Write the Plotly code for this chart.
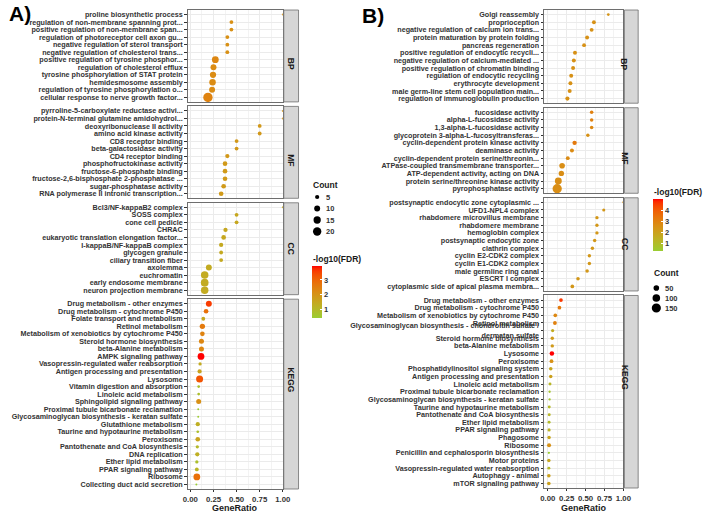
import numpy as np
import plotly.graph_objects as go

W, H = 709, 512

# ================= Panel A data =================
A_BP_terms = ["proline biosynthetic process", "regulation of non-membrane spanning prot...",
              "positive regulation of non-membrane span...", "regulation of photoreceptor cell axon gu...",
              "negative regulation of sterol transport", "negative regulation of cholesterol trans...",
              "positive regulation of tyrosine phosphor...", "regulation of cholesterol efflux",
              "tyrosine phosphorylation of STAT protein", "hemidesmosome assembly",
              "regulation of tyrosine phosphorylation o...", "cellular response to nerve growth factor..."]
A_BP_ratio = [1.0, 0.444, 0.444, 0.40, 0.40, 0.40, 0.27, 0.25, 0.245, 0.24, 0.235, 0.19]
A_BP_count = [1, 4, 4, 4, 4, 4, 13, 10, 11, 12, 10, 25]
A_BP_logfdr = [2.0, 2.1, 2.1, 2.1, 2.1, 2.1, 2.3, 2.2, 2.2, 2.2, 2.2, 2.4]

A_MF_terms = ["pyrroline-5-carboxylate reductase activi...", "protein-N-terminal glutamine amidohydrol...",
              "deoxyribonuclease II activity", "amino acid kinase activity", "CD8 receptor binding",
              "beta-galactosidase activity", "CD4 receptor binding", "phosphofructokinase activity",
              "fructose-6-phosphate binding", "fructose-2,6-bisphosphate 2-phosphatase ...",
              "sugar-phosphatase activity", "RNA polymerase II intronic transcription..."]
A_MF_ratio = [1.0, 1.0, 0.75, 0.75, 0.5, 0.5, 0.4, 0.375, 0.375, 0.375, 0.36, 0.333]
A_MF_count = [1, 1, 4, 4, 4, 4, 5, 6, 6, 6, 6, 6]
A_MF_logfdr = [2.0, 2.0, 1.9, 1.9, 1.9, 1.9, 1.9, 1.85, 1.85, 1.85, 1.85, 1.85]

A_CC_terms = ["Bcl3/NF-kappaB2 complex", "SOSS complex", "cone cell pedicle", "CHRAC",
              "eukaryotic translation elongation factor...", "I-kappaB/NF-kappaB complex",
              "glycogen granule", "ciliary transition fiber", "axolemma", "euchromatin",
              "early endosome membrane", "neuron projection membrane"]
A_CC_ratio = [1.0, 0.5, 0.5, 0.38, 0.36, 0.333, 0.333, 0.333, 0.2, 0.155, 0.155, 0.155]
A_CC_count = [1, 4, 4, 5, 6, 5, 4, 4, 10, 16, 17, 16]
A_CC_logfdr = [1.5, 1.5, 1.5, 1.5, 1.5, 1.45, 1.45, 1.45, 1.4, 1.4, 1.4, 1.4]

A_KEGG_terms = ["Drug metabolism - other enzymes", "Drug metabolism - cytochrome P450",
                "Folate transport and metabolism", "Retinol metabolism",
                "Metabolism of xenobiotics by cytochrome P450", "Steroid hormone biosynthesis",
                "beta-Alanine metabolism", "AMPK signaling pathway",
                "Vasopressin-regulated water reabsorption", "Antigen processing and presentation",
                "Lysosome", "Vitamin digestion and absorption", "Linoleic acid metabolism",
                "Sphingolipid signaling pathway", "Proximal tubule bicarbonate reclamation",
                "Glycosaminoglycan biosynthesis - keratan sulfate", "Glutathione metabolism",
                "Taurine and hypotaurine metabolism", "Peroxisome", "Pantothenate and CoA biosynthesis",
                "DNA replication", "Ether lipid metabolism", "PPAR signaling pathway", "Ribosome",
                "Collecting duct acid secretion"]
A_KEGG_ratio = [0.20, 0.17, 0.14, 0.13, 0.13, 0.12, 0.12, 0.115, 0.105, 0.10, 0.10, 0.09, 0.09,
                0.09, 0.085, 0.085, 0.08, 0.08, 0.08, 0.075, 0.075, 0.07, 0.07, 0.07, 0.065]
A_KEGG_count = [10, 6, 4, 8, 6, 7, 7, 13, 3, 5, 14, 2, 2, 7, 1, 1, 5, 2, 6, 3, 5, 3, 4, 13, 1]
A_KEGG_logfdr = [3.6, 2.8, 1.5, 2.6, 2.4, 2.3, 2.3, 3.95, 1.4, 1.6, 3.3, 0.8, 0.8, 2.1, 0.45, 0.45,
                 1.3, 0.8, 1.6, 1.0, 1.3, 0.8, 1.1, 2.8, 0.4]

# ================= Panel B data =================
B_BP_terms = ["Golgi reassembly", "proprioception", "negative regulation of calcium ion trans...",
              "protein maturation by protein folding", "pancreas regeneration",
              "positive regulation of endocytic recycli...", "negative regulation of calcium-mediated ...",
              "positive regulation of chromatin binding", "regulation of endocytic recycling",
              "erythrocyte development", "male germ-line stem cell population main...",
              "regulation of immunoglobulin production"]
B_BP_ratio = [0.80, 0.61, 0.58, 0.52, 0.48, 0.36, 0.345, 0.335, 0.31, 0.30, 0.29, 0.26]
B_BP_count = [8, 20, 20, 20, 20, 22, 22, 22, 22, 22, 22, 24]
B_BP_logfdr = [2.4, 2.5, 2.5, 2.5, 2.5, 2.5, 2.5, 2.5, 2.5, 2.5, 2.5, 2.5]

B_MF_terms = ["fucosidase activity", "alpha-L-fucosidase activity", "1,3-alpha-L-fucosidase activity",
              "glycoprotein 3-alpha-L-fucosyltransferas...", "cyclin-dependent protein kinase activity",
              "deaminase activity", "cyclin-dependent protein serine/threonin...",
              "ATPase-coupled transmembrane transporter...", "ATP-dependent activity, acting on DNA",
              "protein serine/threonine kinase activity", "pyrophosphatase activity"]
B_MF_ratio = [0.58, 0.58, 0.58, 0.53, 0.355, 0.32, 0.265, 0.19, 0.18, 0.14, 0.125]
B_MF_count = [16, 16, 16, 15, 28, 22, 20, 50, 45, 80, 155]
B_MF_logfdr = [3.0, 3.0, 2.8, 2.5, 3.2, 2.7, 2.7, 2.6, 2.6, 2.6, 2.6]

B_CC_terms = ["postsynaptic endocytic zone cytoplasmic ...", "UFD1-NPL4 complex",
              "rhabdomere microvillus membrane", "rhabdomere membrane", "hemoglobin complex",
              "postsynaptic endocytic zone", "clathrin complex", "cyclin E2-CDK2 complex",
              "cyclin E1-CDK2 complex", "male germline ring canal", "ESCRT I complex",
              "cytoplasmic side of apical plasma membra..."]
B_CC_ratio = [1.0, 0.74, 0.65, 0.65, 0.65, 0.62, 0.59, 0.55, 0.55, 0.52, 0.40, 0.325]
B_CC_count = [5, 12, 14, 14, 14, 15, 15, 15, 15, 16, 16, 18]
B_CC_logfdr = [2.5, 2.3, 2.3, 2.3, 2.3, 2.3, 2.3, 2.3, 2.3, 2.3, 2.3, 2.3]

B_KEGG_terms = ["Drug metabolism - other enzymes", "Drug metabolism - cytochrome P450",
                "Metabolism of xenobiotics by cytochrome P450", "Retinol metabolism",
                "Glycosaminoglycan biosynthesis - chondroitin sulfate /<br>dermatan sulfate",
                "Steroid hormone biosynthesis", "beta-Alanine metabolism", "Lysosome", "Peroxisome",
                "Phosphatidylinositol signaling system", "Antigen processing and presentation",
                "Linoleic acid metabolism", "Proximal tubule bicarbonate reclamation",
                "Glycosaminoglycan biosynthesis - keratan sulfate", "Taurine and hypotaurine metabolism",
                "Pantothenate and CoA biosynthesis", "Ether lipid metabolism", "PPAR signaling pathway",
                "Phagosome", "Ribosome", "Penicillin and cephalosporin biosynthesis", "Motor proteins",
                "Vasopressin-regulated water reabsorption", "Autophagy - animal", "mTOR signaling pathway"]
B_KEGG_ratio = [0.175, 0.155, 0.10, 0.095, 0.065, 0.06, 0.06, 0.055, 0.05, 0.04, 0.04, 0.03, 0.025,
                0.025, 0.02, 0.02, 0.018, 0.018, 0.018, 0.018, 0.015, 0.015, 0.015, 0.015, 0.015]
B_KEGG_count = [18, 18, 18, 20, 12, 15, 15, 30, 20, 16, 15, 10, 5, 5, 10, 10, 10, 12, 15, 22, 5, 15,
                10, 16, 16]
B_KEGG_logfdr = [4.6, 3.2, 2.8, 3.0, 1.6, 2.2, 2.2, 5.0, 2.5, 1.8, 2.0, 1.2, 0.6, 0.6, 1.1, 1.2, 1.0,
                 1.3, 1.8, 2.5, 0.3, 1.8, 1.1, 2.0, 2.0]

FACETS = ["BP", "MF", "CC", "KEGG"]
X_TICKS = [0, 0.25, 0.5, 0.75, 1.0]
X_TICKTEXT = ["0.00", "0.25", "0.50", "0.75", "1.00"]
A_COUNT_BREAKS = [5, 10, 15, 20]
B_COUNT_BREAKS = [50, 100, 150]
A_FDR_BREAKS = [1, 2, 3]
B_FDR_BREAKS = [1, 2, 3, 4]

A_DATA = [(A_BP_terms, A_BP_ratio, A_BP_count, A_BP_logfdr),
          (A_MF_terms, A_MF_ratio, A_MF_count, A_MF_logfdr),
          (A_CC_terms, A_CC_ratio, A_CC_count, A_CC_logfdr),
          (A_KEGG_terms, A_KEGG_ratio, A_KEGG_count, A_KEGG_logfdr)]
B_DATA = [(B_BP_terms, B_BP_ratio, B_BP_count, B_BP_logfdr),
          (B_MF_terms, B_MF_ratio, B_MF_count, B_MF_logfdr),
          (B_CC_terms, B_CC_ratio, B_CC_count, B_CC_logfdr),
          (B_KEGG_terms, B_KEGG_ratio, B_KEGG_count, B_KEGG_logfdr)]


# ---------- colour scale: Lab interpolation yellowgreen -> red (like ggplot) ----------
def _to_lin(c):
    c = c / 255.0
    return np.where(c <= 0.04045, c / 12.92, ((c + 0.055) / 1.055) ** 2.4)


def _from_lin(c):
    c = np.where(c <= 0.0031308, 12.92 * c, 1.055 * np.power(np.clip(c, 0, None), 1 / 2.4) - 0.055)
    return np.clip(np.round(c * 255), 0, 255)


M = np.array([[0.4124, 0.3576, 0.1805], [0.2126, 0.7152, 0.0722], [0.0193, 0.1192, 0.9505]])
WP = np.array([0.95047, 1.0, 1.08883])


def rgb2lab(rgb):
    xyz = M @ _to_lin(np.array(rgb, float)) / WP
    f = np.where(xyz > 0.008856, np.cbrt(xyz), 7.787 * xyz + 16 / 116)
    return np.array([116 * f[1] - 16, 500 * (f[0] - f[1]), 200 * (f[1] - f[2])])


def lab2rgb(lab):
    fy = (lab[0] + 16) / 116
    fx = fy + lab[1] / 500
    fz = fy - lab[2] / 200
    f = np.array([fx, fy, fz])
    xyz = np.where(f ** 3 > 0.008856, f ** 3, (f - 16 / 116) / 7.787) * WP
    return _from_lin(np.linalg.inv(M) @ xyz)


LOW, HIGH = rgb2lab((154, 205, 50)), rgb2lab((255, 0, 0))
COLORSCALE = []
for t in np.linspace(0, 1, 21):
    r, g, b = lab2rgb(LOW + (HIGH - LOW) * t)
    COLORSCALE.append([float(t), f"rgb({int(r)},{int(g)},{int(b)})"])


def size_a(c):
    return 0.1 + 1.85 * np.sqrt(np.asarray(c, float))


def size_b(c):
    return 0.8 + 0.68 * np.sqrt(np.asarray(c, float))


FONT = "Liberation Sans, Arial, sans-serif"
TXT = "#333333"


def facet_bounds(top, bottom, gap, rows):
    units = [n + 0.2 for n in rows]
    per = (bottom - top - gap * (len(rows) - 1)) / sum(units)
    out, y = [], top
    for u in units:
        out.append((y, y + u * per))
        y += u * per + gap
    return out


PANELS = [
    dict(data=A_DATA, x0=186, x1=283, sx0=284, sx1=299, top=10, bottom=489, gap=4.5,
         xr=[-0.03, 1.0], size=size_a, cax="coloraxis"),
    dict(data=B_DATA, x0=549, x1=630, sx0=631, sx1=645, top=10, bottom=488, gap=4.5,
         xr=[-0.05, 1.0], size=size_b, cax="coloraxis2"),
]

fig = go.Figure()
shapes, annotations = [], []
ax = 0
for p in PANELS:
    bounds = facet_bounds(p["top"], p["bottom"], p["gap"], [len(d[0]) for d in p["data"]])
    for k, ((terms, ratio, count, lf), (yt, yb)) in enumerate(zip(p["data"], bounds)):
        ax += 1
        n = len(terms)
        bottom_facet = k == 3
        fig.add_trace(go.Scatter(
            x=ratio, y=terms, mode="markers", xaxis=f"x{ax}", yaxis=f"y{ax}", showlegend=False,
            marker=dict(size=p["size"](count), color=lf, coloraxis=p["cax"], line=dict(width=0),
                        opacity=1),
            customdata=count, hovertemplate="%{y}<br>GeneRatio=%{x}<br>Count=%{customdata}<extra></extra>"))
        fig.layout[f"xaxis{ax}"] = dict(
            domain=[p["x0"] / W, p["x1"] / W], anchor=f"y{ax}", range=p["xr"],
            tickmode="array", tickvals=X_TICKS, ticktext=X_TICKTEXT, showticklabels=bottom_facet,
            ticks="outside" if bottom_facet else "", ticklen=2.5, tickcolor=TXT, tickwidth=1,
            tickfont=dict(family=FONT, size=7.8, color=TXT, weight="bold"),
            showgrid=True, gridcolor="#EBEBEB", gridwidth=1, zeroline=False,
            minor=dict(showgrid=True, tick0=0.125, dtick=0.25, gridcolor="#F3F3F3", gridwidth=0.6),
            showline=True, mirror=True, linecolor="#6E6E6E", linewidth=0.8, fixedrange=True)
        fig.layout[f"yaxis{ax}"] = dict(
            domain=[1 - yb / H, 1 - yt / H], anchor=f"x{ax}", type="category",
            categoryorder="array", categoryarray=terms, range=[n - 0.4, -0.6],
            tickmode="array", tickvals=terms, ticktext=terms,
            ticks="outside", ticklen=2.5, tickcolor=TXT, tickwidth=1,
            tickfont=dict(family=FONT, size=7.2, color=TXT, weight="bold"),
            showgrid=True, gridcolor="#EBEBEB", gridwidth=1, zeroline=False,
            showline=True, mirror=True, linecolor="#6E6E6E", linewidth=0.8, fixedrange=True)
        # facet strip
        shapes.append(dict(type="rect", xref="paper", yref="paper", x0=p["sx0"] / W, x1=p["sx1"] / W,
                           y0=1 - yb / H, y1=1 - yt / H, fillcolor="#D6D6D6",
                           line=dict(color="#6E6E6E", width=0.8), layer="above"))
        annotations.append(dict(text=FACETS[k], xref="paper", yref="paper",
                                x=(p["sx0"] + p["sx1"]) / 2 / W, y=1 - (yt + yb) / 2 / H,
                                textangle=90, showarrow=False,
                                font=dict(family=FONT, size=8.5, color="#1A1A1A", weight="bold")))
    annotations.append(dict(text="GeneRatio", xref="paper", yref="paper",
                            x=(p["x0"] + p["x1"]) / 2 / W, y=1 - 508 / H, showarrow=False,
                            xanchor="center", yanchor="middle",
                            font=dict(family=FONT, size=9, color="#1A1A1A", weight="bold")))

# panel labels
for lab, lx, ly in [("A)", 2, 13), ("B)", 362, 15)]:
    annotations.append(dict(text=lab, xref="paper", yref="paper", x=lx / W, y=1 - ly / H,
                            xanchor="left", yanchor="middle", showarrow=False,
                            font=dict(family=FONT, size=21, color="black", weight="bold")))


# Count legends (drawn as pixel-sized circles)
def count_legend(title_xy, breaks, ys, cx, lx, sizefun):
    annotations.append(dict(text="Count", xref="paper", yref="paper", x=title_xy[0] / W,
                            y=1 - title_xy[1] / H, xanchor="left", yanchor="middle", showarrow=False,
                            font=dict(family=FONT, size=8.5, color="#1A1A1A", weight="bold")))
    for b, yy in zip(breaks, ys):
        d = float(sizefun(b))
        shapes.append(dict(type="circle", xref="paper", yref="paper", xsizemode="pixel",
                           ysizemode="pixel", xanchor=cx / W, yanchor=1 - yy / H,
                           x0=-d / 2, x1=d / 2, y0=-d / 2, y1=d / 2, fillcolor="black",
                           line=dict(width=0)))
        annotations.append(dict(text=str(b), xref="paper", yref="paper", x=lx / W, y=1 - yy / H,
                                xanchor="left", yanchor="middle", showarrow=False,
                                font=dict(family=FONT, size=7.5, color=TXT, weight="bold")))


count_legend((312, 185), A_COUNT_BREAKS, [197, 208.5, 220, 231.5], 318, 325, size_a)
count_legend((659, 273), B_COUNT_BREAKS, [288, 298, 308], 663.5, 670, size_b)

# colour bar titles
for tx, ty in [(312, 259), (659, 192)]:
    annotations.append(dict(text="-log10(FDR)", xref="paper", yref="paper", x=tx / W, y=1 - ty / H,
                            xanchor="left", yanchor="middle", showarrow=False,
                            font=dict(family=FONT, size=8.5, color="#1A1A1A", weight="bold")))


def cbar(x, ytop, breaks):
    return dict(x=x / W, xanchor="left", y=1 - ytop / H, yanchor="top", len=52, lenmode="pixels",
                thickness=10, thicknessmode="pixels", xpad=0, ypad=0, outlinewidth=0,
                tickvals=breaks, ticks="inside", ticklen=2, tickcolor="white",
                tickfont=dict(family=FONT, size=7.5, color=TXT, weight="bold"), title=dict(text=""))


fig.update_layout(
    width=W, height=H, margin=dict(l=0, r=0, t=0, b=0),
    paper_bgcolor="white", plot_bgcolor="white", showlegend=False,
    coloraxis=dict(colorscale=COLORSCALE, colorbar=cbar(313, 266, A_FDR_BREAKS)),
    coloraxis2=dict(colorscale=COLORSCALE, colorbar=cbar(660, 199, B_FDR_BREAKS)),
    shapes=shapes, annotations=annotations,
)

fig.write_html("out.html")
